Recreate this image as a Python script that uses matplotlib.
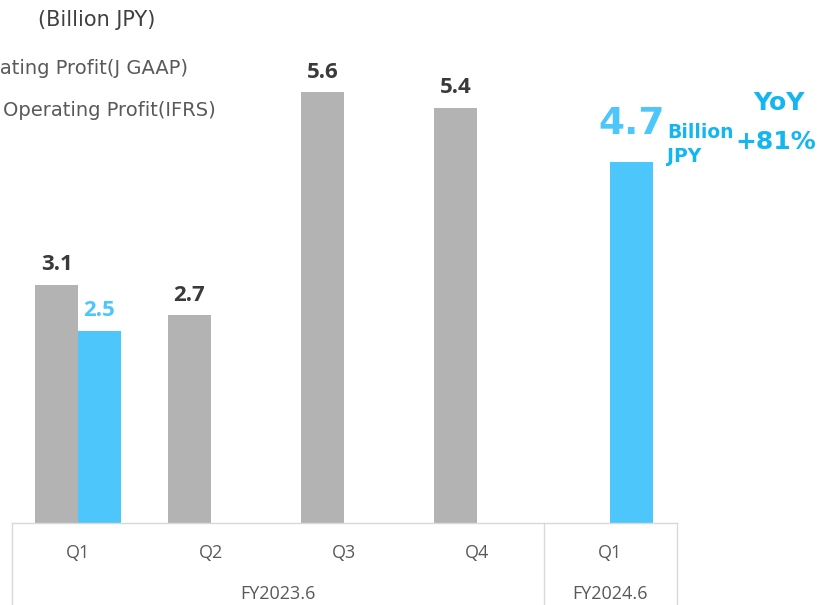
import matplotlib.pyplot as plt
import numpy as np

# quarterly operating profit, billion JPY
quarters = ["Q1", "Q2", "Q3", "Q4", "Q1"]
periods = ["FY2023.6", "FY2024.6"]
jgaap = [3.1, 2.7, 5.6, 5.4, None]
ifrs = [2.5, None, None, None, 4.7]
yoy = "+81%"

GRAY = "#b3b3b3"
BLUE = "#4dc6fc"
HL = "#14b6f2"
TXT = "#595959"

W, H = 819, 605
fig = plt.figure(figsize=(W / 100, H / 100), dpi=100)

px_per_unit = 76.9
ytop = 6.4
ax = fig.add_axes([11.5 / W, (H - 523) / H, 665 / W, ytop * px_per_unit / H])

x = np.arange(len(quarters))
bw = 0.323

for i, v in enumerate(jgaap):
    if v is None:
        continue
    ax.bar(x[i], v, width=-bw, align="edge", color=GRAY)
    ax.annotate(f"{v}", (x[i] - bw / 2, v), xytext=(0, 14.5), textcoords="offset points",
                ha="center", va="center", fontsize=16, fontweight="bold",
                color="#3a3a3a", family="Open Sans")

for i, v in enumerate(ifrs):
    if v is None:
        continue
    ax.bar(x[i], v, width=bw, align="edge", color=BLUE)
    if i == 0:
        ax.annotate(f"{v}", (x[i] + bw / 2, v), xytext=(0, 14.5), textcoords="offset points",
                    ha="center", va="center", fontsize=16, fontweight="bold",
                    color=BLUE, family="Open Sans")

# latest quarter highlight
latest = ifrs[-1]
ax.annotate(f"{latest}", (x[-1] + bw / 2, latest), xytext=(0, 27), textcoords="offset points",
            ha="center", va="center", fontsize=27, fontweight="bold",
            color=BLUE, family="DejaVu Sans")

ax.set_xlim(-0.5, 4.5)
ax.set_ylim(0, ytop)
ax.axis("off")

# category table under the bars
tr = ax.get_xaxis_transform()
ybot = -90 / (ytop * px_per_unit)
lc = "#d9d9d9"
ax.plot([-0.5, 4.5], [0, 0], transform=tr, color=lc, lw=1, clip_on=False)
for xv in [-0.5, 3.5, 4.5]:
    ax.plot([xv, xv], [0, ybot], transform=tr, color=lc, lw=1, clip_on=False)

yq = -30 / (ytop * px_per_unit)
yfy = -71 / (ytop * px_per_unit)
for i, q in enumerate(quarters):
    ax.text(x[i], yq, q, transform=tr, ha="center", va="center",
            fontsize=13, color=TXT, family="Open Sans")
ax.text(1.5, yfy, periods[0], transform=tr, ha="center", va="center",
        fontsize=13, color=TXT, family="Open Sans")
ax.text(4.0, yfy, periods[1], transform=tr, ha="center", va="center",
        fontsize=13, color=TXT, family="Open Sans")


def ftext(px, py, s, **kw):
    fig.text(px / W, 1 - py / H, s, **kw)


ftext(38, 20, "(Billion JPY)", ha="left", va="center", fontsize=15,
      color="#404040", family="DejaVu Sans")
# legend entries run off the left edge of the figure
ftext(188, 68, "Operating Profit(J GAAP)", ha="right", va="center",
      fontsize=14, color=TXT, family="DejaVu Sans")
ftext(3, 110, "Operating Profit(IFRS)", ha="left", va="center",
      fontsize=14, color=TXT, family="DejaVu Sans")

ftext(667, 132, "Billion", ha="left", va="center", fontsize=13.5,
      fontweight="bold", color=HL, family="DejaVu Sans")
ftext(667, 157, "JPY", ha="left", va="center", fontsize=13.5,
      fontweight="bold", color=HL, family="DejaVu Sans")
ftext(779, 103, "YoY", ha="center", va="center", fontsize=18,
      fontweight="bold", color=HL, family="DejaVu Sans")
ftext(776, 142, yoy, ha="center", va="center", fontsize=18,
      fontweight="bold", color=HL, family="DejaVu Sans")

fig.savefig("out.png", dpi=100)
